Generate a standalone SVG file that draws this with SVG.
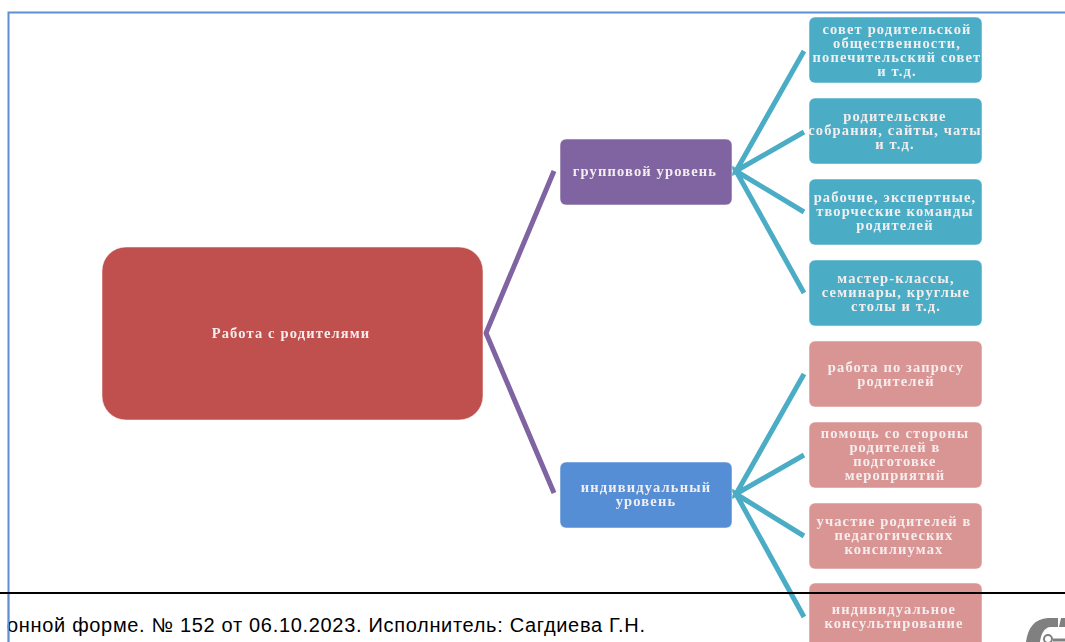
<svg xmlns="http://www.w3.org/2000/svg" width="1065" height="642" viewBox="0 0 1065 642">
<defs><filter id="soft" x="-5%" y="-20%" width="110%" height="140%"><feGaussianBlur stdDeviation="0.35"/></filter></defs>
<style>
text{font-family:"Liberation Serif","DejaVu Serif",serif;font-size:14.500px;font-weight:bold;letter-spacing:1.150px;fill:#f3eeee;text-anchor:middle;filter:url(#soft)}
.n{stroke:#fff;stroke-opacity:.5;stroke-width:1}
.t{fill:#4bacc6}.p{fill:#d99594}
.cp{fill:none;stroke:#8064a2;stroke-width:5;stroke-linejoin:miter}
.ct{fill:none;stroke:#4bacc6;stroke-width:5;stroke-linejoin:miter}
</style>
<rect width="1065" height="642" fill="#fff"/>
<path d="M8.500 642V12.500H1065" fill="none" stroke="#5f8fcf" stroke-width="2"/>
<g id="connectors">
<path class="cp" d="M554 171L486 333L554 493"/>
<path class="ct" d="M804 51L736 171L804 132M804 212L736 171L804 293"/>
<path class="ct" d="M804 374L736 494L804 455M804 536L736 494L804 617"/>
</g>
<g id="root"><rect class="n" x="102" y="247" width="381" height="173" rx="24" fill="#c0504d"/><text x="291" y="337.500">Работа с родителями</text></g>
<g id="group"><rect class="n" x="560" y="139" width="172" height="66" rx="6" fill="#8064a2"/><text x="645" y="176">групповой уровень</text></g>
<g id="individual"><rect class="n" x="560" y="462" width="172" height="66" rx="6" fill="#558ed5"/><text x="646" y="492">индивидуальный</text><text x="646" y="506">уровень</text></g>
<g id="b1"><rect class="n t" x="809" y="17" width="173" height="66" rx="6"/><text x="897" y="33.500">совет родительской</text><text x="897" y="47.500">общественности,</text><text x="897" y="61.500">попечительский совет</text><text x="897" y="75.500">и т.д.</text></g>
<g id="b2"><rect class="n t" x="809" y="98" width="173" height="66" rx="6"/><text x="895" y="121">родительские</text><text x="895" y="135">собрания, сайты, чаты</text><text x="895" y="149">и т.д.</text></g>
<g id="b3"><rect class="n t" x="809" y="179" width="173" height="66" rx="6"/><text x="895" y="202">рабочие, экспертные,</text><text x="895" y="216">творческие команды</text><text x="895" y="230">родителей</text></g>
<g id="b4"><rect class="n t" x="809" y="260" width="173" height="66" rx="6"/><text x="896" y="283">мастер-классы,</text><text x="896" y="297">семинары, круглые</text><text x="896" y="311">столы и т.д.</text></g>
<g id="p1"><rect class="n p" x="809" y="341" width="173" height="66" rx="6"/><text x="896" y="372">работа по запросу</text><text x="896" y="386">родителей</text></g>
<g id="p2"><rect class="n p" x="809" y="422" width="173" height="66" rx="6"/><text x="895" y="438">помощь со стороны</text><text x="895" y="452">родителей в</text><text x="895" y="466">подготовке</text><text x="895" y="480">мероприятий</text></g>
<g id="p3"><rect class="n p" x="809" y="503" width="173" height="66" rx="6"/><text x="894" y="526">участие родителей в</text><text x="894" y="540">педагогических</text><text x="894" y="554">консилиумах</text></g>
<g id="p4"><rect class="n p" x="809" y="583" width="173" height="66" rx="6"/><text x="894" y="614">индивидуальное</text><text x="894" y="628">консультирование</text></g>
<path d="M0 593H1065" stroke="#000" stroke-width="2"/>
<text x="7" y="632" style="font-family:'Liberation Sans',Arial,sans-serif;font-size:20px;font-weight:normal;letter-spacing:0;fill:#000;text-anchor:start;filter:none" textLength="638" lengthAdjust="spacing">онной форме. № 152 от 06.10.2023. Исполнитель: Сагдиева Г.Н.</text>
<path d="M8.500 594V642" stroke="#5f8fcf" stroke-width="1.500"/>
<path d="M1026 642C1028 628 1034 619 1048 618H1058V627H1050C1044 628 1041 634 1040 642ZM1061 618H1065V627H1059Z" fill="#808080"/>
<circle cx="1048" cy="639" r="4" fill="#fff" stroke="#808080" stroke-width="2"/>
<path d="M1053 640H1065" stroke="#808080" stroke-width="3"/>
</svg>
